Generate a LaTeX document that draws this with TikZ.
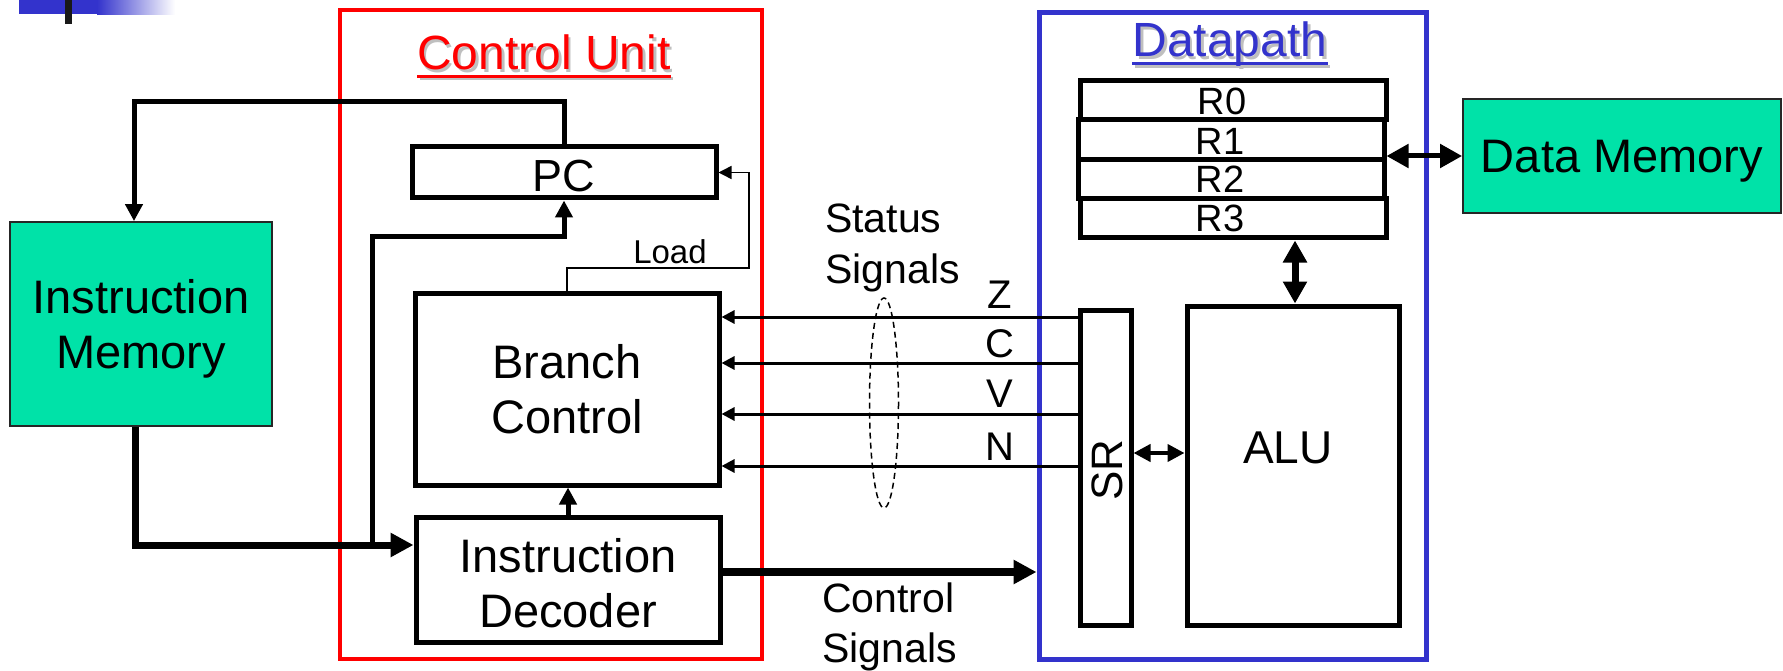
\documentclass[tikz,border=0pt]{standalone}
\usepackage{fontspec}
\setmainfont{Liberation Sans}
\usetikzlibrary{arrows.meta,calc}
\definecolor{memgreen}{RGB}{0,226,168}
\definecolor{dpblue}{RGB}{51,51,204}
\begin{document}
\begin{tikzpicture}[x=1pt,y=-1pt,
  box/.style={draw=black, line width=5pt, inner sep=0pt, align=center},
  mem/.style={draw=black!85, line width=1.8pt, fill=memgreen, inner sep=0pt, align=center},
  lbl/.style={inner sep=0pt, anchor=base},
  fbig/.style={font=\fontsize{47pt}{55pt}\selectfont},
  fpc/.style={font=\fontsize{45pt}{50pt}\selectfont},
  freg/.style={font=\fontsize{38pt}{42pt}\selectfont},
  fsig/.style={font=\fontsize{41pt}{50pt}\selectfont},
  fflag/.style={font=\fontsize{40pt}{44pt}\selectfont},
  fload/.style={font=\fontsize{33pt}{36pt}\selectfont},
  ftitle/.style={font=\fontsize{48pt}{52pt}\selectfont},
  wA/.style={line width=5pt},
  wB/.style={line width=7pt},
  tipS/.style={-{Triangle[length=13pt,width=13pt]}},
  tipM/.style={-{Triangle[length=17pt,width=17pt]}},
  tipL/.style={-{Triangle[length=23pt,width=23pt]}},
  dblM/.style={{Triangle[length=17pt,width=17pt]}-{Triangle[length=17pt,width=17pt]}},
  dblL/.style={{Triangle[length=22pt,width=23pt]}-{Triangle[length=22pt,width=23pt]}},
]
\useasboundingbox (0,0) rectangle (1783,671);

% top-left decoration
\fill[dpblue] (19,0) rectangle (97,14);
\shade[left color=dpblue, right color=white] (97,0) rectangle (175,15);
\fill[black!90] (65,0) rectangle (72,24);

% frames
\node[draw=red, line width=4pt, minimum width=422pt, minimum height=649pt, inner sep=0pt] (cu) at (551,334.5) {};
\node[draw=dpblue, line width=5pt, minimum width=387pt, minimum height=646pt, inner sep=0pt] (dp) at (1232.5,336) {};

% titles with shadow
\begin{scope}[shift={(2.5,2.5)}]
  \node[lbl, ftitle, text=black!25] (cus) at (544,70) {Control Unit};
  \draw[black!25, line width=3pt] ([yshift=-6.5pt]cus.base west) -- ([yshift=-6.5pt]cus.base east);
  \node[lbl, ftitle, text=black!25] (dps) at (1230,57) {Datapath};
  \draw[black!25, line width=3pt] ([yshift=-7pt]dps.base west) -- ([yshift=-7pt]dps.base east);
\end{scope}
\node[lbl, ftitle, text=red] (cut) at (544,70) {Control Unit};
\draw[red, line width=3pt] ([yshift=-6.5pt]cut.base west) -- ([yshift=-6.5pt]cut.base east);
\node[lbl, ftitle, text=dpblue] (dpt) at (1230,57) {Datapath};
\draw[dpblue, line width=3pt] ([yshift=-7pt]dpt.base west) -- ([yshift=-7pt]dpt.base east);

% memories
\node[mem, fbig, text depth=0pt, minimum width=262pt, minimum height=204pt] (im) at (141,324) {Instruction\\Memory};
\node[mem, fbig, text depth=0pt, minimum width=318pt, minimum height=114pt] (dm) at (1622,156) {Data Memory};

% control unit blocks
\node[box, fpc, text height=39pt, text depth=0pt, minimum width=304pt, minimum height=51pt] (pc) at (564,172.5) {PC};
\node[box, fbig, minimum width=304pt, minimum height=192pt] (bc) at (567,389) {Branch\\Control};
\node[box, fbig, text height=95pt, text depth=0pt, minimum width=304pt, minimum height=125pt] (id) at (568,579.5) {Instruction\\Decoder};

% datapath blocks
\node[box, minimum width=306pt, minimum height=39pt] (r0) at (1233,100.5) {};
\node[box, minimum width=306pt, minimum height=40pt] (r1) at (1231,140) {};
\node[box, minimum width=306pt, minimum height=39pt] (r2) at (1231,179.5) {};
\node[box, minimum width=306pt, minimum height=39pt] (r3) at (1233,218.5) {};
\node[lbl, freg] (r0t) at (1222,115) {R0};
\node[lbl, freg] (r1t) at (1220,155) {R1};
\node[lbl, freg] (r2t) at (1220,193) {R2};
\node[lbl, freg] (r3t) at (1220,232) {R3};

\node[box, minimum width=51pt, minimum height=315pt] (sr) at (1105.5,467.5) {};
\node[inner sep=0pt, rotate=90, font=\fontsize{44pt}{48pt}\selectfont] (srt) at (1107,470) {SR};
\node[box, minimum width=212pt, minimum height=319pt] (alu) at (1293,465.5) {};
\node[lbl, font=\fontsize{46pt}{50pt}\selectfont] (alut) at (1288,463) {ALU};

% helper coordinates
\coordinate (topY) at (0,102);
\coordinate (imin) at ($(im.north)+(-7,0)$);
\coordinate (imout) at ($(im.south)+(-6,0)$);
\coordinate (jn) at (372,545);
\coordinate (brY) at (0,237);
\coordinate (ldc) at (749,268);
\coordinate (zr) at (0,317);
\coordinate (cr) at (0,363);
\coordinate (vr) at (0,414);
\coordinate (nr) at (0,466);
\coordinate (csY) at (0,572);
\coordinate (aluY) at (0,453);
\coordinate (raX) at (1295,0);

% control unit connectors
\draw[wA, tipM] (pc.north) |- (topY -| imin) -- (imin);
\draw[wB, tipL] (imout) |- (jn) -- (jn -| id.west);
\draw[wA, tipM] (jn) |- (brY -| pc.south) -- (pc.south);
\draw[wA, tipM] (id.north) -- (id.north |- bc.south);
\draw[line width=1.5pt, tipS] (bc.north) |- (ldc) |- (pc.east);
\node[lbl, fload] (load) at (670,263) {Load};

% status signals
\draw[line width=3pt, tipS] (sr.west |- zr) -- (bc.east |- zr);
\draw[line width=3pt, tipS] (sr.west |- cr) -- (bc.east |- cr);
\draw[line width=3pt, tipS] (sr.west |- vr) -- (bc.east |- vr);
\draw[line width=3pt, tipS] (sr.west |- nr) -- (bc.east |- nr);
\node[lbl, fflag] (zl) at (1000,308) {Z};
\node[lbl, fflag] (cl) at (1000,357) {C};
\node[lbl, fflag] (vl) at (1000,407) {V};
\node[lbl, fflag] (nl) at (1000,460) {N};
\draw[line width=1.5pt, dash pattern=on 6pt off 4pt] (884,403) ellipse [x radius=14.5, y radius=105];
\node[lbl, anchor=base west, fsig] (st1) at (825,233) {Status};
\node[lbl, anchor=base west, fsig] (st2) at (825,283) {Signals};

% control signals
\draw[line width=8pt, tipL] (id.east |- csY) -- (dp.west |- csY);
\node[lbl, anchor=base west, fsig] (cs1) at (822,612) {Control};
\node[lbl, anchor=base west, fsig] (cs2) at (822,662) {Signals};

% datapath connectors
\draw[line width=4pt, dblM] (sr.east |- aluY) -- (alu.west |- aluY);
\draw[wB, dblL] (r3.south -| raX) -- (alu.north -| raX);
\draw[wA, dblL] (r1.east |- dm.west) -- (dm.west);
\end{tikzpicture}
\end{document}
